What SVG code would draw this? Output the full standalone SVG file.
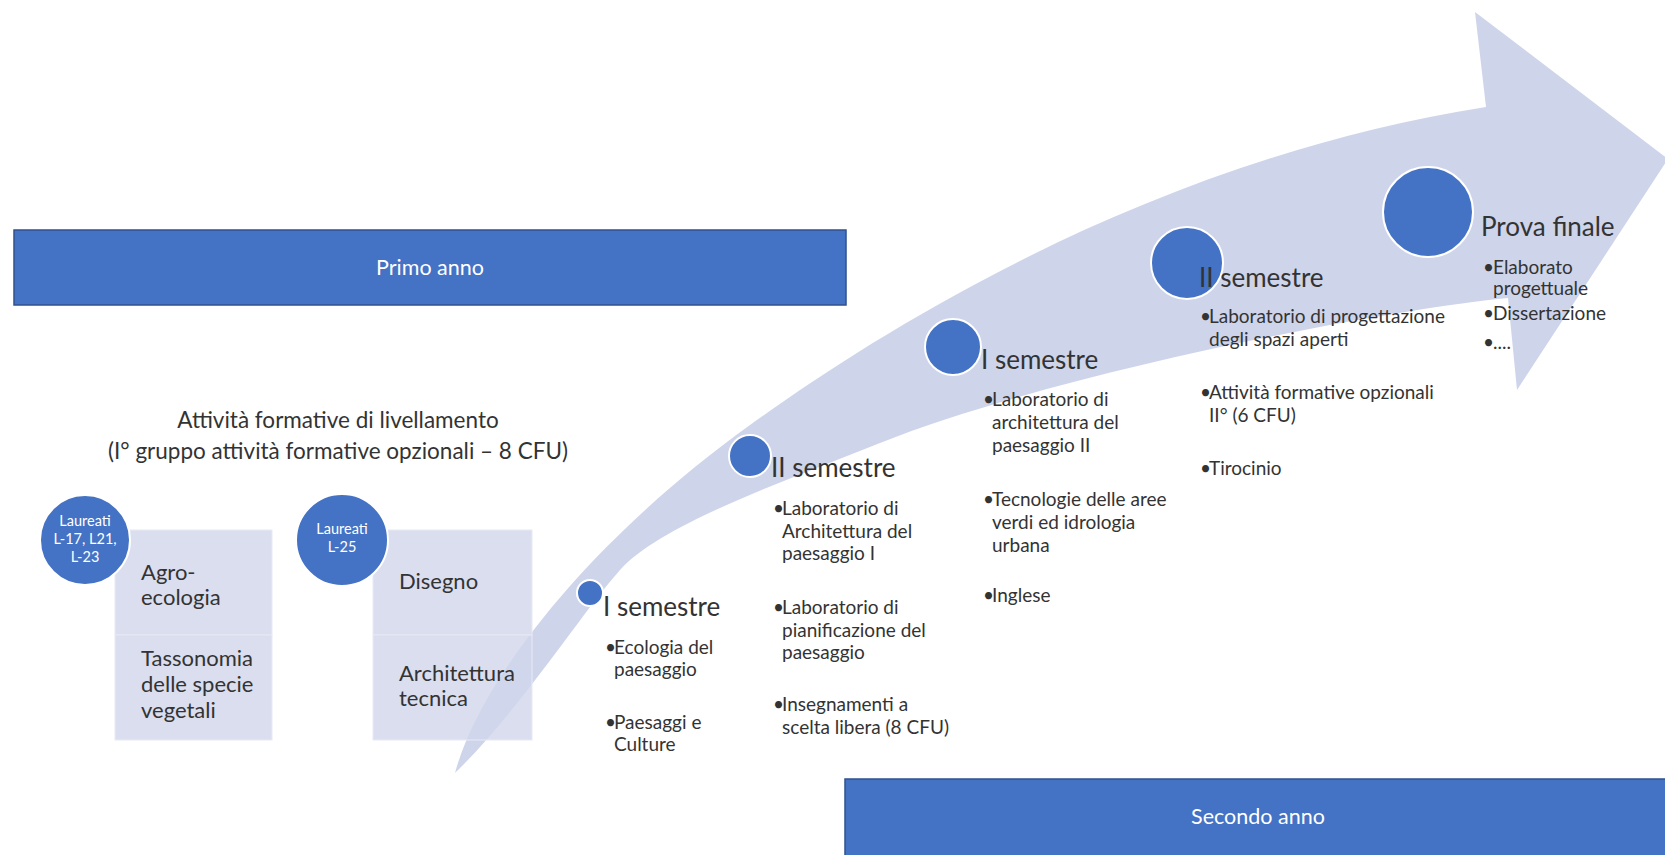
<svg xmlns="http://www.w3.org/2000/svg" width="1665" height="855" viewBox="0 0 1665 855">
<style>
.t{font-family:Lato,"Liberation Sans",sans-serif;fill:#333}
.h{font-size:26px}
.b{font-size:19px}
.bx{font-size:22px}
.ti{font-size:22.5px}
.bar{fill:#4472C4;stroke:#2F528F;stroke-width:1.5}
.bt{font-family:Lato,"Liberation Sans",sans-serif;fill:#fff;font-size:21.5px;text-anchor:middle}
.ct{font-family:Lato,"Liberation Sans",sans-serif;fill:#fff;font-size:14.5px;text-anchor:middle}
.dot{fill:#4472C4;stroke:#fff;stroke-width:2}
.box{fill:#D1D6EB;fill-opacity:0.8;stroke:#E8EAF4;stroke-width:1}
</style>
<rect width="1665" height="855" fill="#fff"/>
<g id="bar-primo-anno">
<rect class="bar" x="14" y="230" width="832" height="75"/>
<text class="bt" x="430" y="275">Primo anno</text>
</g>
<g id="bar-secondo-anno">
<rect class="bar" x="845" y="779" width="830" height="85"/>
<text class="bt" x="1258" y="824">Secondo anno</text>
</g>
<g id="progress-arrow">
<path fill="#CED4EA" d="M455,773 C480,680 590,540 750,425 C880,331 1150,160 1486,107 L1475,12 L1668,159 L1517,390 L1508,298 C1380,310 1050,375 880,443 C780,483 660,525 620,570 C580,615 520,710 455,773 Z"/>
</g>
<g id="title-livellamento">
<text class="t ti" x="338" y="428" text-anchor="middle">Attività formative di livellamento</text>
<text class="t ti" x="338" y="459" text-anchor="middle">(I° gruppo attività formative opzionali – 8 CFU)</text>
</g>
<g id="box-l17">
<rect class="box" x="115" y="530" width="157" height="105"/>
<rect class="box" x="115" y="635" width="157" height="105"/>
<text class="t bx" x="141" y="580">Agro-</text>
<text class="t bx" x="141" y="605">ecologia</text>
<text class="t bx" x="141" y="666">Tassonomia</text>
<text class="t bx" x="141" y="692">delle specie</text>
<text class="t bx" x="141" y="718">vegetali</text>
</g>
<g id="box-l25">
<rect class="box" x="373" y="530" width="159" height="105"/>
<rect class="box" x="373" y="635" width="159" height="105"/>
<text class="t bx" x="399" y="589">Disegno</text>
<text class="t bx" x="399" y="681">Architettura</text>
<text class="t bx" x="399" y="706">tecnica</text>
</g>
<g id="circle-l17">
<circle class="dot" cx="85" cy="540" r="45"/>
<text class="ct" x="85" y="526">Laureati</text>
<text class="ct" x="85" y="544">L-17, L21,</text>
<text class="ct" x="85" y="562">L-23</text>
</g>
<g id="circle-l25">
<circle class="dot" cx="342" cy="540" r="46"/>
<text class="ct" x="342" y="534">Laureati</text>
<text class="ct" x="342" y="552">L-25</text>
</g>
<g id="y1-sem1">
<circle class="dot" cx="590" cy="593" r="13"/>
<text class="t h" x="603" y="616">I semestre</text>
<text class="t b" x="605" y="654">•</text><text class="t b" x="614" y="654">Ecologia del</text>
<text class="t b" x="614" y="676">paesaggio</text>
<text class="t b" x="605" y="729">•</text><text class="t b" x="614" y="729">Paesaggi e</text>
<text class="t b" x="614" y="751">Culture</text>
</g>
<g id="y1-sem2">
<circle class="dot" cx="750" cy="456" r="21"/>
<text class="t h" x="771" y="477">II semestre</text>
<text class="t b" x="773" y="515">•</text><text class="t b" x="782" y="515">Laboratorio di</text>
<text class="t b" x="782" y="537.5">Architettura del</text>
<text class="t b" x="782" y="560">paesaggio I</text>
<text class="t b" x="773" y="614">•</text><text class="t b" x="782" y="614">Laboratorio di</text>
<text class="t b" x="782" y="636.5">pianificazione del</text>
<text class="t b" x="782" y="659">paesaggio</text>
<text class="t b" x="773" y="711">•</text><text class="t b" x="782" y="711">Insegnamenti a</text>
<text class="t b" x="782" y="733.5">scelta libera (8 CFU)</text>
</g>
<g id="y2-sem1">
<circle class="dot" cx="953" cy="347" r="28"/>
<text class="t h" x="981" y="369">I semestre</text>
<text class="t b" x="983" y="406">•</text><text class="t b" x="992" y="406">Laboratorio di</text>
<text class="t b" x="992" y="429">architettura del</text>
<text class="t b" x="992" y="452">paesaggio II</text>
<text class="t b" x="983" y="506">•</text><text class="t b" x="992" y="506">Tecnologie delle aree</text>
<text class="t b" x="992" y="529">verdi ed idrologia</text>
<text class="t b" x="992" y="551.5">urbana</text>
<text class="t b" x="983" y="602">•</text><text class="t b" x="992" y="602">Inglese</text>
</g>
<g id="y2-sem2">
<circle class="dot" cx="1187" cy="263" r="36"/>
<text class="t h" x="1199" y="287">II semestre</text>
<text class="t b" x="1200" y="323">•</text><text class="t b" x="1209" y="323">Laboratorio di progettazione</text>
<text class="t b" x="1209" y="346">degli spazi aperti</text>
<text class="t b" x="1200" y="399">•</text><text class="t b" x="1209" y="399">Attività formative opzionali</text>
<text class="t b" x="1209" y="422">II° (6 CFU)</text>
<text class="t b" x="1200" y="475">•</text><text class="t b" x="1209" y="475">Tirocinio</text>
</g>
<g id="prova-finale">
<circle class="dot" cx="1428" cy="212" r="45"/>
<text class="t h" x="1481" y="236">Prova finale</text>
<text class="t b" x="1483" y="274">•</text><text class="t b" x="1493" y="274">Elaborato</text>
<text class="t b" x="1493" y="295">progettuale</text>
<text class="t b" x="1483" y="320">•</text><text class="t b" x="1493" y="320">Dissertazione</text>
<text class="t b" x="1483" y="349">•</text><text class="t b" x="1493" y="349">....</text>
</g>
</svg>
